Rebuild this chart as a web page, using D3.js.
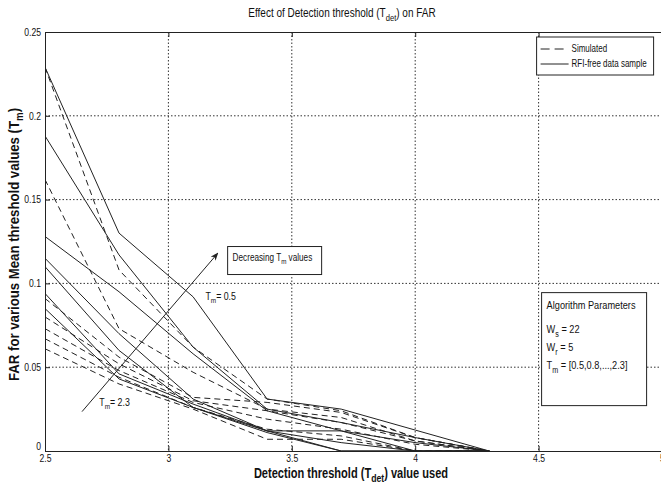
<!DOCTYPE html>
<html lang="en">
<head>
  <meta charset="UTF-8">
  <title>Effect of Detection threshold on FAR</title>
  <script src="https://d3js.org/d3.v7.min.js"></script>
  <style>
    body { margin: 0; background: #fff; }
    svg text { font-family: "Liberation Sans Narrow", "Arial Narrow", "Liberation Sans", Arial, sans-serif; fill: #111; }
  </style>
</head>
<body>
<div id="chart-container"></div>
<script>
// detection thresholds on the x axis
var tdet = [2.5, 2.8, 3.1, 3.4, 3.7, 4.0, 4.3];
// mean threshold values, one curve of each kind per value
var tmValues = [0.5, 0.8, 1.1, 1.4, 1.7, 2.0, 2.3];

// simulated (dashed)
var simulated = [
  [0.229, 0.108, 0.062, 0.031, 0.024, 0.008, 0],
  [0.162, 0.073, 0.047, 0.025, 0.020, 0.006, 0],
  [0.091, 0.056, 0.032, 0.029, 0.023, 0.008, 0],
  [0.080, 0.052, 0.030, 0.024, 0.017, 0.006, 0],
  [0.073, 0.048, 0.029, 0.019, 0.013, 0.004, 0],
  [0.067, 0.044, 0.026, 0.013, 0.009, 0, 0],
  [0.061, 0.040, 0.025, 0.007, 0.007, 0, 0]
];

// RFI-free data sample (solid)
var rfiFree = [
  [0.229, 0.130, 0.092, 0.031, 0.025, 0.0125, 0],
  [0.188, 0.117, 0.062, 0.025, 0.017, 0.008, 0],
  [0.128, 0.095, 0.058, 0.024, 0.012, 0.005, 0],
  [0.115, 0.070, 0.031, 0.012, 0.012, 0, 0],
  [0.110, 0.060, 0.026, 0.012, 0.005, 0, 0],
  [0.094, 0.046, 0.028, 0.012, 0, 0, 0],
  [0.085, 0.043, 0.026, 0.011, 0, 0, 0]
];

var xTicks = [2.5, 3, 3.5, 4, 4.5, 5];
var yTicks = [0, 0.05, 0.1, 0.15, 0.2, 0.25];

var W = 661, H = 486;
var margin = { top: 32, right: -1, bottom: 35, left: 45 };
var width = W - margin.left - margin.right;
var height = H - margin.top - margin.bottom;

// squeeze a text horizontally around its x, the original font is a narrow one
function narrow(sel, s) {
  sel.each(function () {
    var t = d3.select(this);
    var x0 = +t.attr("x") || 0;
    t.attr("transform", "translate(" + x0 + ",0) scale(" + s + ",1) translate(" + (-x0) + ",0)");
  });
}

var svg = d3.select("#chart-container")
  .append("svg")
  .attr("width", W)
  .attr("height", H);

var g = svg.append("g")
  .attr("transform", "translate(" + margin.left + "," + margin.top + ")");

var x = d3.scaleLinear().domain([2.5, 5]).range([0, width]);
var y = d3.scaleLinear().domain([0, 0.25]).range([height, 0]);

g.append("clipPath").attr("id", "plotclip")
  .append("rect").attr("width", width).attr("height", height);

// dotted grid
g.append("g").selectAll("line")
  .data(xTicks.slice(1))
  .join("line")
  .attr("x1", d => x(d)).attr("x2", d => x(d))
  .attr("y1", 0).attr("y2", height)
  .attr("stroke", "#333").attr("stroke-dasharray", "1.5,2");

g.append("g").selectAll("line")
  .data(yTicks.slice(1, -1))
  .join("line")
  .attr("x1", 0).attr("x2", width)
  .attr("y1", d => y(d)).attr("y2", d => y(d))
  .attr("stroke", "#333").attr("stroke-dasharray", "1.5,2");

// axes, ticks pointing inwards like matlab
var xAxis = g.append("g")
  .attr("transform", "translate(0," + height + ")")
  .call(d3.axisBottom(x).tickValues(xTicks).tickSize(-5).tickPadding(4).tickFormat(d3.format("")));
var yAxis = g.append("g")
  .call(d3.axisLeft(y).tickValues(yTicks).tickSize(-5).tickPadding(4).tickFormat(d3.format("")));

g.append("g")
  .call(d3.axisTop(x).tickValues(xTicks).tickSize(-5).tickFormat(""));

[xAxis, yAxis].forEach(function (a) {
  a.selectAll("text").style("font-size", "10.5px").style("fill", "#111");
  narrow(a.selectAll("text"), 0.82);
});
yAxis.selectAll(".tick").filter(d => d === 0).select("text").attr("dy", "-0.1em");
g.selectAll(".domain").attr("stroke", "#222");
g.selectAll(".tick line").attr("stroke", "#222");

// curves
var line = d3.line()
  .x((d, i) => x(tdet[i]))
  .y(d => y(d));

var curves = g.append("g").attr("clip-path", "url(#plotclip)");

curves.selectAll("path.sim")
  .data(simulated)
  .join("path")
  .attr("class", "sim")
  .attr("fill", "none")
  .attr("stroke", "#222")
  .attr("stroke-width", 1)
  .attr("stroke-dasharray", "6,4")
  .attr("d", line);

curves.selectAll("path.rfi")
  .data(rfiFree)
  .join("path")
  .attr("class", "rfi")
  .attr("fill", "none")
  .attr("stroke", "#222")
  .attr("stroke-width", 1)
  .attr("d", line);

// title and axis labels
var title = svg.append("text")
  .attr("x", 342).attr("y", 17)
  .attr("text-anchor", "middle")
  .style("font-size", "12.5px");
title.append("tspan").text("Effect of Detection threshold (T");
title.append("tspan").attr("dy", 4).style("font-size", "9.5px").text("det");
title.append("tspan").attr("dy", -4).text(") on FAR");
narrow(title, 0.8);

var xlab = svg.append("text")
  .attr("x", 351).attr("y", 478)
  .attr("text-anchor", "middle")
  .style("font-size", "14px")
  .style("font-weight", "bold");
xlab.append("tspan").text("Detection threshold (T");
xlab.append("tspan").attr("dy", 4).style("font-size", "11px").text("det");
xlab.append("tspan").attr("dy", -4).text(") value used");
narrow(xlab, 0.79);

var ylab = svg.append("text")
  .attr("transform", "translate(19," + (margin.top + height / 2 + 3) + ") rotate(-90) scale(0.88,1)")
  .attr("text-anchor", "middle")
  .style("font-size", "15px")
  .style("font-weight", "bold");
ylab.append("tspan").text("FAR for various Mean threshold values (T");
ylab.append("tspan").attr("dy", 4).style("font-size", "11px").text("m");
ylab.append("tspan").attr("dy", -4).text(")");

// legend
var legend = g.append("g").attr("transform", "translate(" + (x(4.5) - 2) + ",5)");
legend.append("rect")
  .attr("width", 117).attr("height", 38)
  .attr("fill", "#fff").attr("stroke", "#222");
var legendItems = [
  { label: "Simulated", dash: "9,5" },
  { label: "RFI-free data sample", dash: null }
];
legendItems.forEach(function (d, i) {
  var ly = 12 + i * 15;
  legend.append("line")
    .attr("x1", 4).attr("x2", 32).attr("y1", ly).attr("y2", ly)
    .attr("stroke", "#222").attr("stroke-dasharray", d.dash);
  var lt = legend.append("text")
    .attr("x", 35).attr("y", ly + 3.5)
    .style("font-size", "10px")
    .text(d.label);
  narrow(lt, 0.8);
});

// annotation arrow
svg.append("defs").append("marker")
  .attr("id", "arrowhead")
  .attr("viewBox", "0 0 10 10")
  .attr("refX", 9).attr("refY", 5)
  .attr("markerWidth", 8).attr("markerHeight", 8)
  .attr("orient", "auto")
  .append("path").attr("d", "M0,1 L10,5 L0,9 L3,5 Z").attr("fill", "#222");

g.append("line")
  .attr("x1", x(2.65)).attr("y1", y(0.0235))
  .attr("x2", x(3.2)).attr("y2", y(0.118))
  .attr("stroke", "#222")
  .attr("marker-end", "url(#arrowhead)");

var note = g.append("g").attr("transform", "translate(" + x(3.24) + "," + y(0.122) + ")");
note.append("rect").attr("width", 94).attr("height", 28)
  .attr("fill", "#fff").attr("stroke", "#222");
var noteText = note.append("text").attr("x", 5).attr("y", 14).style("font-size", "10.5px");
noteText.append("tspan").text("Decreasing T");
noteText.append("tspan").attr("dy", 3).style("font-size", "8px").text("m");
noteText.append("tspan").attr("dy", -3).text(" values");
narrow(noteText, 0.78);

function tmLabel(xv, yv, value) {
  var t = g.append("text").attr("x", x(xv)).attr("y", y(yv)).style("font-size", "11px");
  t.append("tspan").text("T");
  t.append("tspan").attr("dy", 3).style("font-size", "8px").text("m");
  t.append("tspan").attr("dy", -3).text("= " + value);
  narrow(t, 0.8);
}
tmLabel(3.15, 0.090, tmValues[0]);
tmLabel(2.72, 0.027, tmValues[tmValues.length - 1]);

// algorithm parameters box
var params = g.append("g").attr("transform", "translate(" + (x(4.5) + 3) + "," + y(0.0945) + ")");
params.append("rect").attr("width", 105).attr("height", 113)
  .attr("fill", "#fff").attr("stroke", "#222");
var head = params.append("text").attr("x", 5).attr("y", 16).style("font-size", "11.5px").text("Algorithm Parameters");
narrow(head, 0.8);
function param(yy, sym, sub, rest) {
  var t = params.append("text").attr("x", 5).attr("y", yy).style("font-size", "11.5px");
  t.append("tspan").text(sym);
  t.append("tspan").attr("dy", 4).style("font-size", "9px").text(sub);
  t.append("tspan").attr("dy", -4).text(rest);
  narrow(t, 0.8);
}
param(40, "W", "s", " = 22");
param(58, "W", "r", " = 5");
param(76, "T", "m", " = [" + tmValues[0] + "," + tmValues[1] + ",...," + tmValues[tmValues.length - 1] + "]");
</script>
</body>
</html>
